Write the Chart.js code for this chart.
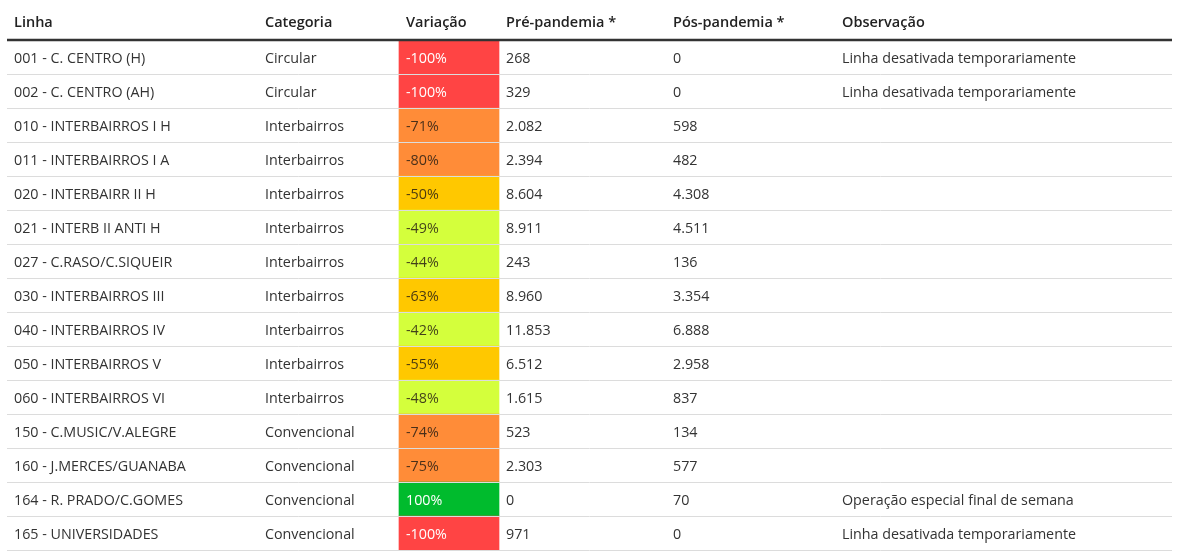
<!DOCTYPE html>
<html>
<head>
<meta charset="utf-8">
<script src="https://cdn.jsdelivr.net/npm/chart.js@4.4.0/dist/chart.umd.min.js"></script>
<style>
html,body{margin:0;padding:0;background:#fff;}
#wrap{width:1199px;height:557px;position:relative;}
</style>
</head>
<body>
<div id="wrap"><canvas id="c"></canvas></div>
<script>
// ---- data ----
const linhas = ["001 - C. CENTRO (H)","002 - C. CENTRO (AH)","010 - INTERBAIRROS I H","011 - INTERBAIRROS I A","020 - INTERBAIRR II H","021 - INTERB II ANTI H","027 - C.RASO/C.SIQUEIR","030 - INTERBAIRROS III","040 - INTERBAIRROS IV","050 - INTERBAIRROS V","060 - INTERBAIRROS VI","150 - C.MUSIC/V.ALEGRE","160 - J.MERCES/GUANABA","164 - R. PRADO/C.GOMES","165 - UNIVERSIDADES"];
const categorias = ["Circular","Circular","Interbairros","Interbairros","Interbairros","Interbairros","Interbairros","Interbairros","Interbairros","Interbairros","Interbairros","Convencional","Convencional","Convencional","Convencional"];
const variacao = [-100,-100,-71,-80,-50,-49,-44,-63,-42,-55,-48,-74,-75,100,-100];
const prePandemia = [268,329,2082,2394,8604,8911,243,8960,11853,6512,1615,523,2303,0,971];
const posPandemia = [0,0,598,482,4308,4511,136,3354,6888,2958,837,134,577,70,0];
const observacao = ["Linha desativada temporariamente","Linha desativada temporariamente","","","","","","","","","","","","Operação especial final de semana","Linha desativada temporariamente"];
const cabecalhos = ["Linha","Categoria","Variação","Pré-pandemia *","Pós-pandemia *","Observação"];

// ---- layout (pixels relative to table left edge) ----
const TABLE_LEFT = 7, TABLE_RIGHT = 1172;
const TABLE_W = TABLE_RIGHT - TABLE_LEFT;
const COL_TEXT_X = [7, 258, 399, 499, 666, 835]; // text x offsets
const VAR_CELL = [392, 492];                     // variação cell span
const FONT = "'Open Sans', 'Noto Sans', sans-serif";

function fmt(n){ return String(n).replace(/\B(?=(\d{3})+(?!\d))/g, "."); }
function cellColor(v){
  if (v >= 0) return "#00bb2d";
  if (v <= -100) return "#ff4444";
  if (v <= -70) return "#ff8c38";
  if (v <= -50) return "#ffc800";
  return "#d4ff3c";
}
function cellText(v){ return (v >= 0 || v <= -100) ? "#ffffff" : "rgba(40,30,20,0.85)"; }

const tablePlugin = {
  id: 'tablePlugin',
  afterDatasetsDraw(chart){
    const ctx = chart.ctx;
    const ys = chart.scales.y, xs = chart.scales.x;
    const x0 = xs.getPixelForValue(0);
    const colX = COL_TEXT_X.map(c => xs.getPixelForValue(c));
    const rowH = Math.abs(ys.getPixelForValue(1) - ys.getPixelForValue(0));
    const top = ys.getPixelForValue(0) - rowH/2;
    const right = xs.getPixelForValue(TABLE_W);
    ctx.save();
    // row separators
    ctx.strokeStyle = "#dcdcdc";
    ctx.lineWidth = 1;
    for (let i = 0; i < linhas.length; i++){
      const yb = Math.round(ys.getPixelForValue(i) + rowH/2) + 0.5;
      ctx.beginPath(); ctx.moveTo(x0, yb); ctx.lineTo(right, yb); ctx.stroke();
    }
    // header line
    ctx.strokeStyle = "#333333";
    ctx.lineWidth = 2.5;
    ctx.beginPath(); ctx.moveTo(x0, top); ctx.lineTo(right, top); ctx.stroke();
    // header text
    ctx.fillStyle = "#222222";
    ctx.font = "600 14.5px " + FONT;
    ctx.textBaseline = "middle";
    ctx.textAlign = "left";
    cabecalhos.forEach((h, j) => ctx.fillText(h, colX[j], top - 17));
    // body text
    ctx.font = "14.3px " + FONT;
    for (let i = 0; i < linhas.length; i++){
      const y = ys.getPixelForValue(i) + 1.5;
      ctx.fillStyle = "#333333";
      ctx.fillText(linhas[i], colX[0], y);
      ctx.fillText(categorias[i], colX[1], y);
      ctx.fillText(fmt(prePandemia[i]), colX[3], y);
      ctx.fillText(fmt(posPandemia[i]), colX[4], y);
      ctx.fillText(observacao[i], colX[5], y);
      ctx.fillStyle = cellText(variacao[i]);
      ctx.fillText(variacao[i] + "%", colX[2], y);
    }
    ctx.restore();
  }
};

new Chart(document.getElementById('c'), {
  type: 'bar',
  data: {
    labels: linhas,
    datasets: [{
      data: variacao.map(() => VAR_CELL.slice()),
      backgroundColor: variacao.map(cellColor),
      borderWidth: 0,
      barPercentage: 1,
      categoryPercentage: 1
    }]
  },
  options: {
    indexAxis: 'y',
    responsive: true,
    maintainAspectRatio: false,
    animation: false,
    events: [],
    layout: { padding: { left: TABLE_LEFT, right: 1199 - TABLE_RIGHT, top: 40, bottom: 7 } },
    plugins: { legend: { display: false }, tooltip: { enabled: false } },
    scales: {
      x: { type: 'linear', min: 0, max: TABLE_W, display: false },
      y: { type: 'category', display: false }
    }
  },
  plugins: [tablePlugin]
});
</script>
</body>
</html>
